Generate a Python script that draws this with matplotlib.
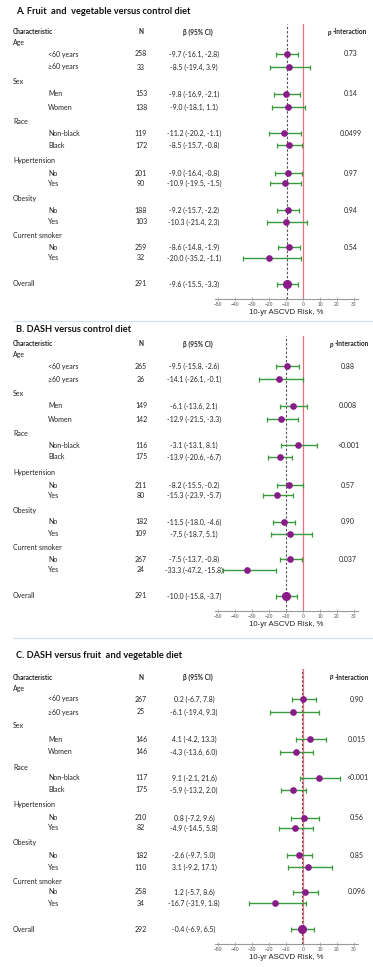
import matplotlib.pyplot as plt

W, H = 373, 967

# ---- data -------------------------------------------------------------
GROUPS = ["Age", "Sex", "Race", "Hypertension", "Obesity", "Current smoker"]
SUBGROUPS = [
    ["<60 years", "\u226560 years"],
    ["Men", "Women"],
    ["Non-black", "Black"],
    ["No", "Yes"],
    ["No", "Yes"],
    ["No", "Yes"],
]

TITLES = [
    "A. Fruit  and  vegetable versus control diet",
    "B. DASH versus control diet",
    "C. DASH versus fruit  and vegetable diet",
]

N_A = [258, 33, 153, 138, 119, 172, 201, 90, 188, 103, 259, 32, 291]
EST_A = [-9.7, -8.5, -9.8, -9.0, -11.2, -8.5, -9.0, -10.9, -9.2, -10.3, -8.6, -20.0, -9.6]
LO_A = [-16.1, -19.4, -16.9, -18.1, -20.2, -15.7, -16.4, -19.5, -15.7, -21.4, -14.8, -35.2, -15.5]
HI_A = [-2.8, 3.9, -2.1, 1.1, -1.1, -0.8, -0.8, -1.5, -2.2, 2.3, -1.9, -1.1, -3.3]
P_A = ["0.73", "0.14", "0.0499", "0.97", "0.94", "0.54"]

N_B = [265, 26, 149, 142, 116, 175, 211, 80, 182, 109, 267, 24, 291]
EST_B = [-9.5, -14.1, -6.1, -12.9, -3.1, -13.9, -8.2, -15.3, -11.5, -7.5, -7.5, -33.3, -10.0]
LO_B = [-15.8, -26.1, -13.6, -21.5, -13.1, -20.6, -15.5, -23.9, -18.0, -18.7, -13.7, -47.2, -15.8]
HI_B = [-2.6, -0.1, 2.1, -3.3, 8.1, -6.7, -0.2, -5.7, -4.6, 5.1, -0.8, -15.8, -3.7]
P_B = ["0.88", "0.008", "<0.001", "0.57", "0.90", "0.037"]

N_C = [267, 25, 146, 146, 117, 175, 210, 82, 182, 110, 258, 34, 292]
EST_C = [0.2, -6.1, 4.1, -4.3, 9.1, -5.9, 0.8, -4.9, -2.6, 3.1, 1.2, -16.7, -0.4]
LO_C = [-6.7, -19.4, -4.2, -13.6, -2.1, -13.2, -7.2, -14.5, -9.7, -9.2, -5.7, -31.9, -6.9]
HI_C = [7.8, 9.3, 13.3, 6.0, 21.6, 2.0, 9.6, 5.8, 5.0, 17.1, 8.6, 1.8, 6.5]
P_C = ["0.90", "0.015", "<0.001", "0.56", "0.85", "0.096"]

PANELS = [
    (N_A, EST_A, LO_A, HI_A, P_A),
    (N_B, EST_B, LO_B, HI_B, P_B),
    (N_C, EST_C, LO_C, HI_C, P_C),
]

XTICKS = [-50, -40, -30, -20, -10, 0, 10, 20, 30]

# ---- layout (pixels) --------------------------------------------------
TITLE_Y = [12, 329, 655]
HEADER_Y = [32, 344, 677]
GROUP_OFF = [11, 49, 90, 128, 166, 204]
ROW_OFF = [22, 35, 62, 75, 101, 113, 141, 151, 178, 190, 215, 226]
OVERALL_OFF = 252
AXIS_OFF = 267
SEPARATORS = [321, 638]

X_CHAR, X_SUB, X_N, X_BETA = 13, 48, 141, 194
X_P = [351, 348, 357]
X_PHEAD = [328, 330, 330]
AX_LEFT, AX_RIGHT = 215, 358
XLIM = (-52, 32.4)

TXT = "#222222"
GREEN = "#3b9a3b"
PURPLE = "#8a1a8a"
RED = "#e8707c"
FONT = ["Lato", "DejaVu Sans"]
ARIAL = ["Liberation Sans", "DejaVu Sans"]
FS = 5.0

fig = plt.figure(figsize=(W / 100, H / 100), dpi=100)


def ftext(x, y, s, **kw):
    kw.setdefault("fontsize", FS)
    kw.setdefault("color", TXT)
    kw.setdefault("family", FONT)
    kw.setdefault("va", "center")
    return fig.text(x / W, 1 - y / H, s, **kw)


for k, (n, est, lo, hi, p) in enumerate(PANELS):
    hy = HEADER_Y[k]
    ftext(16, TITLE_Y[k], TITLES[k], fontsize=6.7, weight="bold", color="#111")

    ftext(X_CHAR, hy, "Characteristic", weight="bold", fontsize=4.7)
    ftext(X_N, hy, "N", weight="bold", fontsize=4.7, ha="center")
    ftext(X_BETA + 4, hy, "\u03b2 (95% CI)", weight="bold", fontsize=4.7, ha="center")
    ftext(X_PHEAD[k], hy, "p", weight="bold", style="italic", fontsize=4.7)
    ftext(X_PHEAD[k] + 4.5, hy, "-Interaction", weight="bold", fontsize=4.7)

    rows_y = []
    for g, name in enumerate(GROUPS):
        ftext(X_CHAR, hy + GROUP_OFF[g], name)
        for j, sub in enumerate(SUBGROUPS[g]):
            i = 2 * g + j
            y = hy + ROW_OFF[i]
            rows_y.append(y)
            ftext(X_SUB, y, sub)
            ftext(X_N, y, str(n[i]), ha="center")
            ftext(X_BETA, y, f"{est[i]:.1f} ({lo[i]:.1f}, {hi[i]:.1f})", ha="center")
        ftext(X_P[k], hy + ROW_OFF[2 * g], p[g], ha="center")

    oy = hy + OVERALL_OFF
    ftext(X_CHAR, oy, "Overall")
    ftext(X_N, oy, str(n[-1]), ha="center")
    ftext(X_BETA, oy, f"{est[-1]:.1f} ({lo[-1]:.1f}, {hi[-1]:.1f})", ha="center")

    # forest plot
    top = hy - 8
    bottom = hy + AXIS_OFF
    ax = fig.add_axes([AX_LEFT / W, 1 - bottom / H, (AX_RIGHT - AX_LEFT) / W, (bottom - top) / H])
    ax.set_xlim(*XLIM)
    ax.set_ylim(bottom, top)
    ax.patch.set_alpha(0)

    ax.axvline(0, color=RED, lw=0.9, zorder=1)
    ax.axvline(est[-1], color="#555555", lw=0.8, ls=(0, (2.2, 1.6)), zorder=1)

    sub_est = est[:-1]
    xerr = [[e - l for e, l in zip(sub_est, lo[:-1])], [h - e for e, h in zip(sub_est, hi[:-1])]]
    ax.errorbar(sub_est, rows_y, xerr=xerr, fmt="o", color=PURPLE, ms=3.8,
                ecolor=GREEN, elinewidth=1.0, capsize=1.8, capthick=0.9, zorder=3)
    ax.errorbar([est[-1]], [oy], xerr=[[est[-1] - lo[-1]], [hi[-1] - est[-1]]], fmt="o",
                color=PURPLE, ms=5.5, ecolor=GREEN, elinewidth=1.0, capsize=1.8,
                capthick=0.9, zorder=3)

    for side in ["top", "right", "left"]:
        ax.spines[side].set_visible(False)
    ax.spines["bottom"].set_color("#9a9a9a")
    ax.spines["bottom"].set_linewidth(0.8)
    ax.set_yticks([])
    ax.set_xticks(XTICKS)
    ax.tick_params(axis="x", direction="inout", length=2.5, width=0.5, colors="#9a9a9a",
                   labelsize=3.6, labelcolor="#555555", pad=1)
    for lab in ax.get_xticklabels():
        lab.set_family(ARIAL)
    ax.set_xlabel("10-yr ASCVD Risk, %", fontsize=5.6, family=ARIAL, color=TXT, labelpad=1.5)

for sy in SEPARATORS:
    fig.add_artist(plt.Line2D([13 / W, 1], [1 - sy / H] * 2, color="#cfe0f0", lw=0.8))

fig.savefig("out.png", dpi=100, facecolor="white")
